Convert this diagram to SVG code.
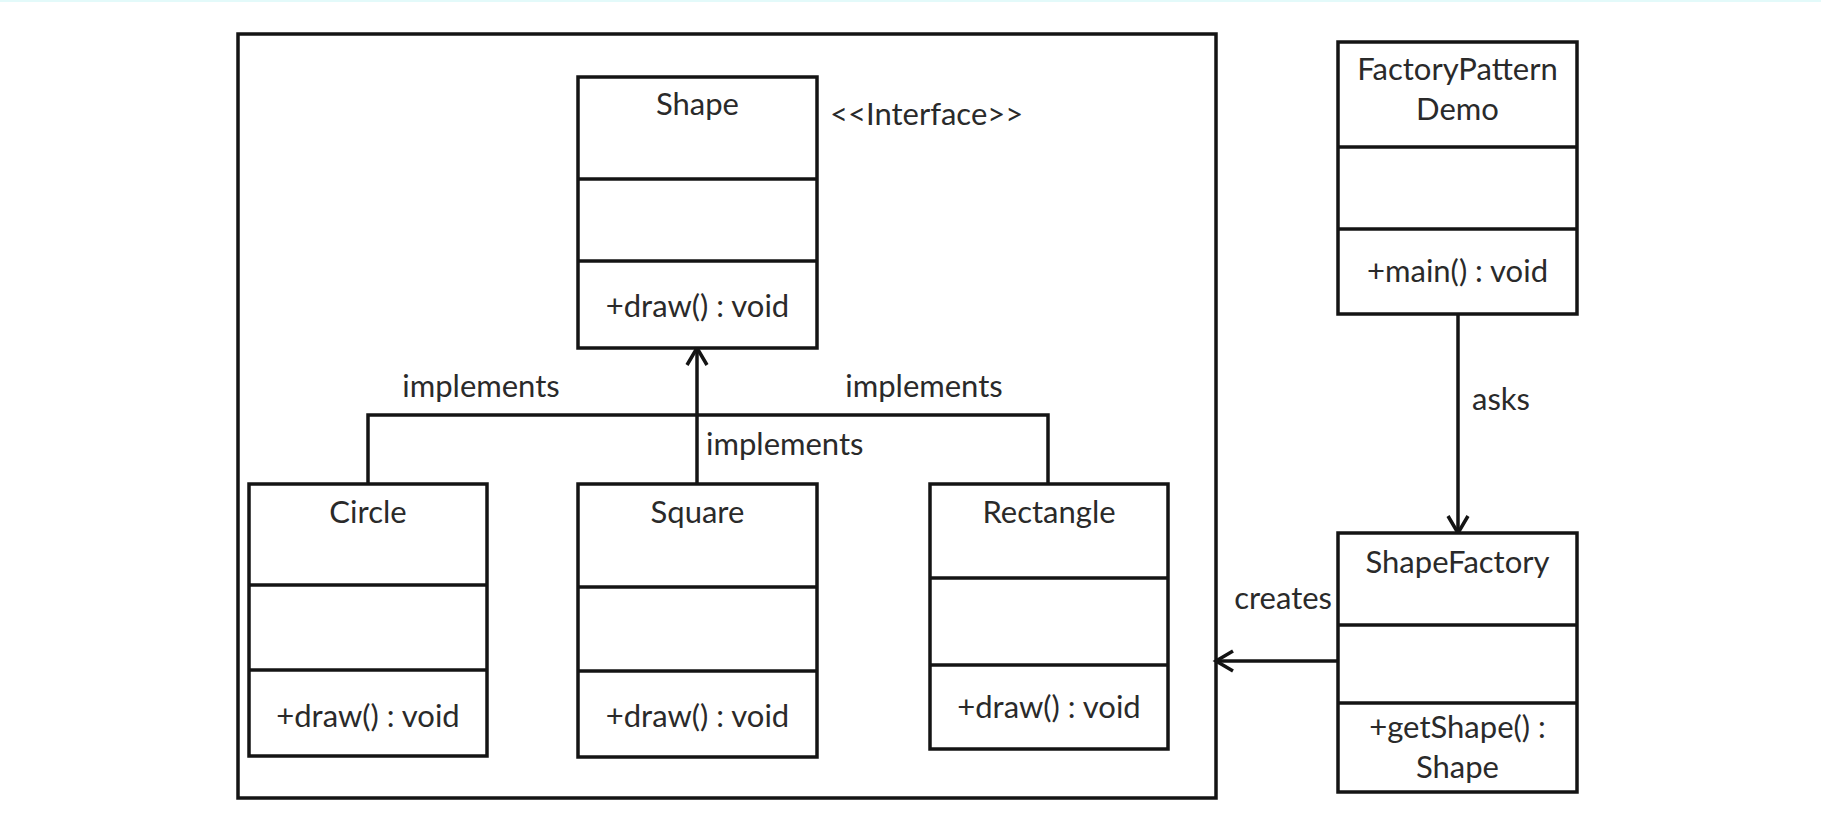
<svg xmlns="http://www.w3.org/2000/svg" width="1821" height="824" viewBox="0 0 1821 824">
<defs>
<style>
.box{fill:#fff;stroke:#141414;stroke-width:3.5}
.div{stroke:#141414;stroke-width:3.5}
.con{fill:none;stroke:#141414;stroke-width:3.5}
text{font-family:Lato,"Liberation Sans",sans-serif;font-size:31px;fill:#2a2a2a}
.c{text-anchor:middle}
</style>
<marker id="arr" viewBox="0 0 24 24" refX="20" refY="12" markerWidth="24" markerHeight="24" orient="auto" markerUnits="userSpaceOnUse">
<path d="M3,2 L20,12 L3,22" fill="none" stroke="#141414" stroke-width="3.5"/>
</marker>
</defs>
<rect x="0" y="0" width="1821" height="824" fill="#fff"/>
<rect x="0" y="0" width="1821" height="2" fill="#e3fafa"/>
<g id="package"><rect class="box" x="238" y="34" width="978" height="764"/></g>
<g id="connectors">
<path class="con" d="M368,484 V415 H1048 V484"/>
<line class="con" x1="697" y1="484" x2="697" y2="348" marker-end="url(#arr)"/>
<line class="con" x1="1458" y1="314" x2="1458" y2="533" marker-end="url(#arr)"/>
<line class="con" x1="1338" y1="661" x2="1216" y2="661" marker-end="url(#arr)"/>
<text x="481" y="397" class="c">implements</text>
<text x="924" y="397" class="c">implements</text>
<text x="706" y="455">implements</text>
<text x="1472" y="410">asks</text>
<text x="1332" y="609" text-anchor="end">creates</text>
</g>
<g id="shape">
<rect class="box" x="578" y="77" width="239" height="271"/>
<line class="div" x1="578" y1="179" x2="817" y2="179"/>
<line class="div" x1="578" y1="261" x2="817" y2="261"/>
<text x="697.5" y="115" class="c">Shape</text>
<text x="697.5" y="317" class="c">+draw() : void</text>
<text x="830" y="125">&lt;&lt;Interface&gt;&gt;</text>
</g>
<g id="circle">
<rect class="box" x="249" y="484" width="238" height="272"/>
<line class="div" x1="249" y1="585" x2="487" y2="585"/>
<line class="div" x1="249" y1="670" x2="487" y2="670"/>
<text x="368" y="523" class="c">Circle</text>
<text x="368" y="727" class="c">+draw() : void</text>
</g>
<g id="square">
<rect class="box" x="578" y="484" width="239" height="273"/>
<line class="div" x1="578" y1="587" x2="817" y2="587"/>
<line class="div" x1="578" y1="671" x2="817" y2="671"/>
<text x="697.5" y="523" class="c">Square</text>
<text x="697.5" y="727" class="c">+draw() : void</text>
</g>
<g id="rectangle">
<rect class="box" x="930" y="484" width="238" height="265"/>
<line class="div" x1="930" y1="578" x2="1168" y2="578"/>
<line class="div" x1="930" y1="665" x2="1168" y2="665"/>
<text x="1049" y="523" class="c">Rectangle</text>
<text x="1049" y="718" class="c">+draw() : void</text>
</g>
<g id="factorypatterndemo">
<rect class="box" x="1338" y="42" width="239" height="272"/>
<line class="div" x1="1338" y1="147" x2="1577" y2="147"/>
<line class="div" x1="1338" y1="229" x2="1577" y2="229"/>
<text x="1457.5" y="80" class="c">FactoryPattern</text>
<text x="1457.5" y="120" class="c">Demo</text>
<text x="1457.5" y="282" class="c">+main() : void</text>
</g>
<g id="shapefactory">
<rect class="box" x="1338" y="533" width="239" height="259"/>
<line class="div" x1="1338" y1="625" x2="1577" y2="625"/>
<line class="div" x1="1338" y1="703" x2="1577" y2="703"/>
<text x="1457.5" y="573" class="c">ShapeFactory</text>
<text x="1457.5" y="738" class="c">+getShape() :</text>
<text x="1457.5" y="778" class="c">Shape</text>
</g>
</svg>
